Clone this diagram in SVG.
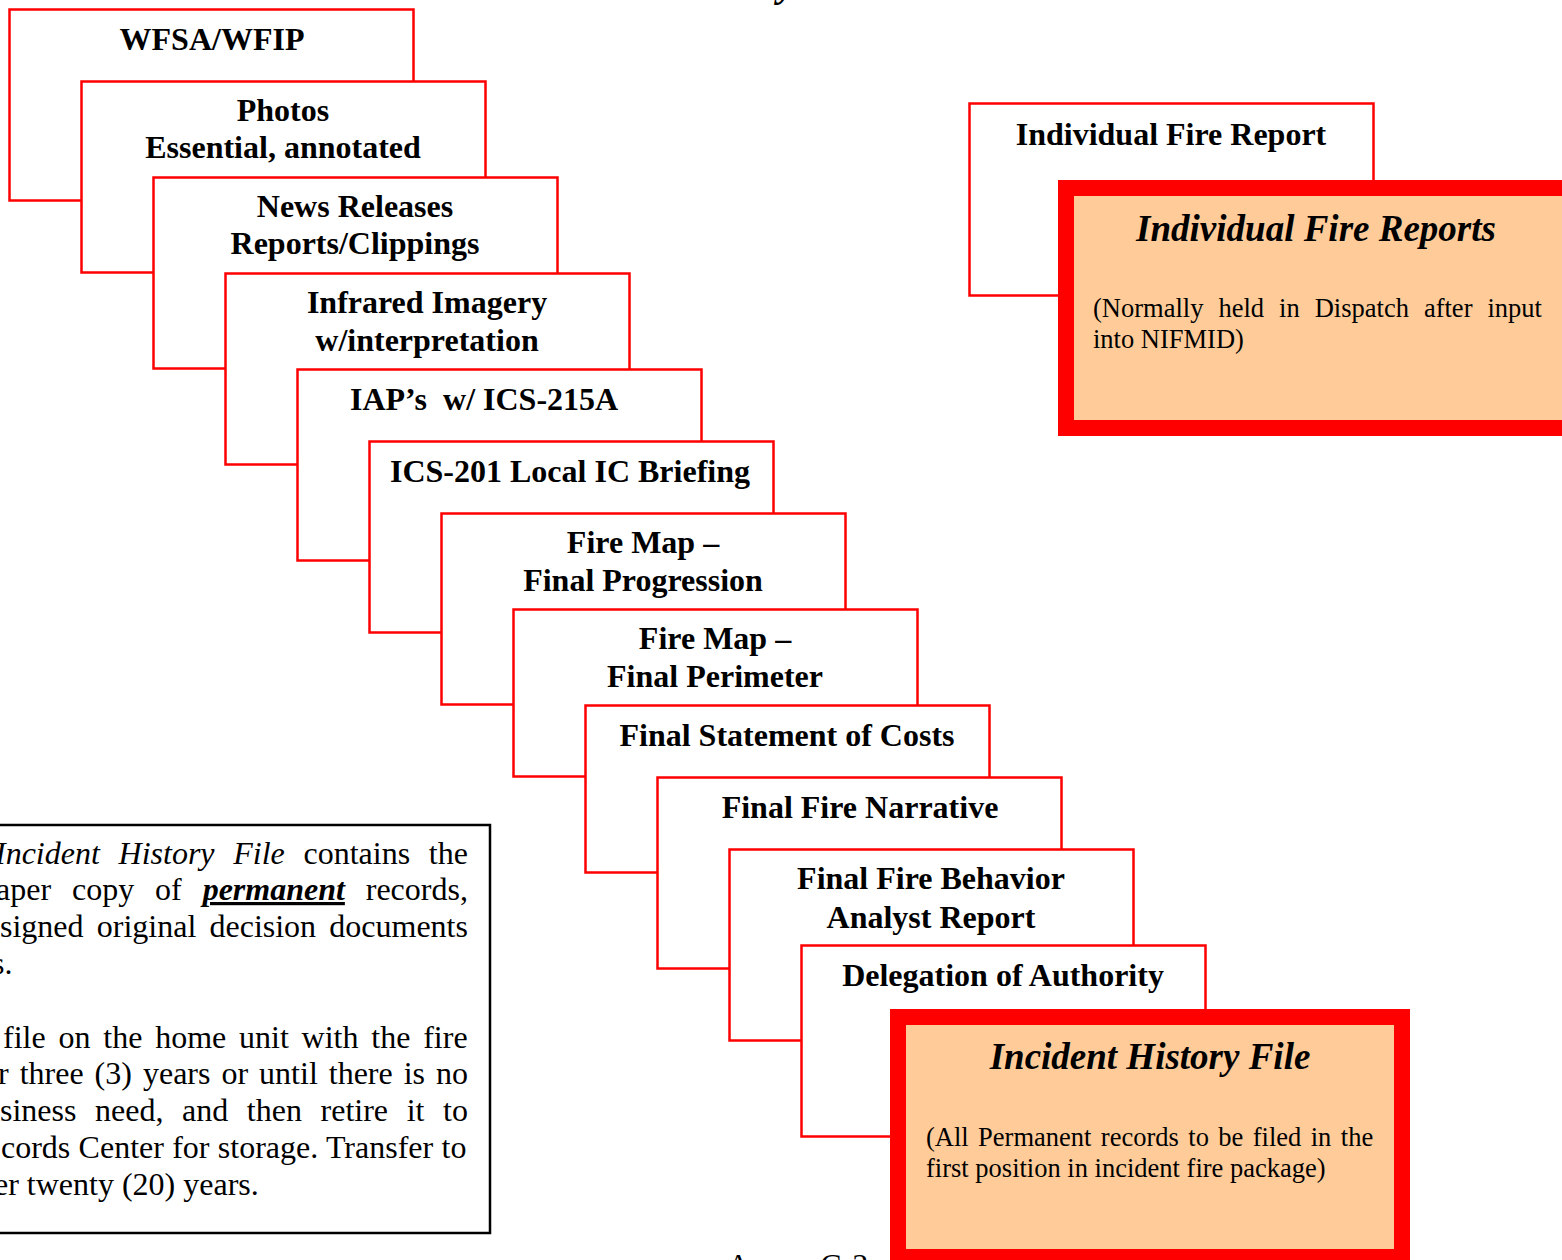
<svg xmlns="http://www.w3.org/2000/svg" width="1562" height="1260" viewBox="0 0 1562 1260">
<style>
.box{fill:#ffffff;stroke:#ff0000;stroke-width:2.5}
.big{fill:#ffcc99;stroke:#ff0000;stroke-width:16}
.note{fill:#ffffff;stroke:#000000;stroke-width:2.5}
.lbl{font-family:"Liberation Serif","Times New Roman",serif;font-weight:bold;font-size:32px;fill:#000;text-anchor:middle}
.ttl{font-family:"Liberation Serif","Times New Roman",serif;font-weight:bold;font-style:italic;font-size:37px;fill:#000;text-anchor:middle}
.body{font-family:"Liberation Serif","Times New Roman",serif;font-size:26.5px;fill:#000}
.txt{font-family:"Liberation Serif","Times New Roman",serif;font-size:32px;fill:#000}
</style>
<rect width="1562" height="1260" fill="#ffffff"/>
<text x="778" y="-4" font-family="Liberation Serif, serif" font-weight="bold" font-style="italic" font-size="40">y</text>
<text class="txt" x="727" y="1276" font-size="26">Annex C-3</text>
<g id="connectors"></g>
<g id="n1"><rect class="box" x="9.5" y="9.5" width="404" height="191"/><text class="lbl" x="212" y="50">WFSA/WFIP</text></g>
<g id="n2"><rect class="box" x="81.5" y="81.5" width="404" height="191"/><text class="lbl" x="283" y="121">Photos</text><text class="lbl" x="283" y="158">Essential, annotated</text></g>
<g id="n3"><rect class="box" x="153.5" y="177.5" width="404" height="191"/><text class="lbl" x="355" y="217">News Releases</text><text class="lbl" x="355" y="254">Reports/Clippings</text></g>
<g id="n4"><rect class="box" x="225.5" y="273.5" width="404" height="191"/><text class="lbl" x="427" y="313">Infrared Imagery</text><text class="lbl" x="427" y="351">w/interpretation</text></g>
<g id="n5"><rect class="box" x="297.5" y="369.5" width="404" height="191"/><text class="lbl" x="350" y="410" style="text-anchor:start" xml:space="preserve">IAP’s  w/ ICS-215A</text></g>
<g id="n6"><rect class="box" x="369.5" y="441.5" width="404" height="191"/><text class="lbl" x="570" y="482">ICS-201 Local IC Briefing</text></g>
<g id="n7"><rect class="box" x="441.5" y="513.5" width="404" height="191"/><text class="lbl" x="643" y="553">Fire Map –</text><text class="lbl" x="643" y="591">Final Progression</text></g>
<g id="n8"><rect class="box" x="513.5" y="609.5" width="404" height="167"/><text class="lbl" x="715" y="649">Fire Map –</text><text class="lbl" x="715" y="687">Final Perimeter</text></g>
<g id="n9"><rect class="box" x="585.5" y="705.5" width="404" height="167"/><text class="lbl" x="787" y="746">Final Statement of Costs</text></g>
<g id="n10"><rect class="box" x="657.5" y="777.5" width="404" height="191"/><text class="lbl" x="860" y="818">Final Fire Narrative</text></g>
<g id="n11"><rect class="box" x="729.5" y="849.5" width="404" height="191"/><text class="lbl" x="931" y="889">Final Fire Behavior</text><text class="lbl" x="931" y="928">Analyst Report</text></g>
<g id="n12"><rect class="box" x="801.5" y="945.5" width="404" height="191"/><text class="lbl" x="1003" y="986">Delegation of Authority</text></g>
<g id="n13"><rect class="big" x="898" y="1017" width="504" height="240"/><text class="ttl" x="1150" y="1069">Incident History File</text><text class="body" x="926" y="1146" word-spacing="2.8">(All Permanent records to be filed in the</text><text class="body" x="926" y="1177">first position in incident fire package)</text></g>
<g id="n14"><rect class="box" x="969.5" y="103.5" width="404" height="192"/><text class="lbl" x="1171" y="145">Individual Fire Report</text></g>
<g id="n15"><rect class="big" x="1066" y="188" width="530" height="240"/><text class="ttl" x="1316" y="241">Individual Fire Reports</text><text class="body" x="1093" y="317" word-spacing="8.4">(Normally held in Dispatch after input</text><text class="body" x="1093" y="348">into NIFMID)</text></g>
<g id="n16"><rect class="note" x="-10" y="825" width="500" height="408"/>
<text class="txt" x="-5" y="864" word-spacing="10.7"><tspan font-style="italic">Incident History File</tspan> contains the</text>
<text class="txt" x="-4" y="900" word-spacing="12.9">aper copy of <tspan font-weight="bold" font-style="italic" text-decoration="underline">permanent</tspan> records,</text>
<text class="txt" x="0" y="937" word-spacing="5.2">signed original decision documents</text>
<text class="txt" x="-8" y="974">s.</text>
<text class="txt" x="3" y="1048" word-spacing="4.8">file on the home unit with the fire</text>
<text class="txt" x="-2" y="1084" word-spacing="3">r three (3) years or until there is no</text>
<text class="txt" x="0" y="1121" word-spacing="10.6">siness need, and then retire it to</text>
<text class="txt" x="1" y="1158" word-spacing="0.3">cords Center for storage. Transfer to</text>
<text class="txt" x="-6" y="1195">er twenty (20) years.</text>
</g>
</svg>
